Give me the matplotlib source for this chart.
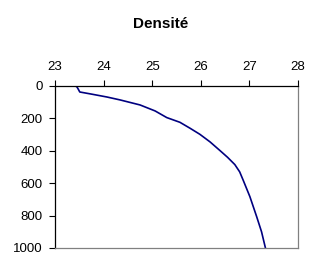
import matplotlib
matplotlib.use("Agg")
import matplotlib.pyplot as plt

plt.rcParams['font.family'] = ['Liberation Sans', 'DejaVu Sans']

density = [23.42, 23.45, 23.47, 23.51, 23.75, 24.07, 24.34, 24.75, 25.06, 25.30,
           25.57, 25.78, 25.98, 26.19, 26.40, 26.55, 26.70, 26.80, 26.87, 27.01,
           27.15, 27.25, 27.33]
depth = [0, 5, 15, 37, 50, 68, 86, 117, 154, 195,
         224, 261, 298, 345, 400, 440, 485, 530, 580, 683,
         807, 900, 1000]
xticks = [23, 24, 25, 26, 27, 28]
yticks = [0, 200, 400, 600, 800, 1000]

fig = plt.figure(figsize=(3.22, 2.74), dpi=100)
ax = fig.add_axes([55/322, 1-248/274, (298-55)/322, (248-86)/274])
ax.plot(density, depth, color='#000080', lw=1.2)
ax.set_xlim(23, 28)
ax.set_ylim(1000, 0)
ax.set_xticks(xticks)
ax.set_yticks(yticks)
ax.xaxis.tick_top()
ax.tick_params(axis='x', direction='out', length=4, width=0.8, labelsize=9.5, pad=5)
ax.tick_params(axis='y', direction='out', length=4, width=0.8, labelsize=9.5, pad=5)
ax.spines['top'].set_color('black')
ax.spines['left'].set_color('black')
ax.spines['right'].set_color('#808080')
ax.spines['bottom'].set_color('#808080')
for s in ax.spines.values():
    s.set_linewidth(0.9)
fig.text(161/322, 1-24/274, 'Densité', ha='center', va='center', fontsize=11, fontweight='bold')
fig.savefig('out.png', dpi=100)
